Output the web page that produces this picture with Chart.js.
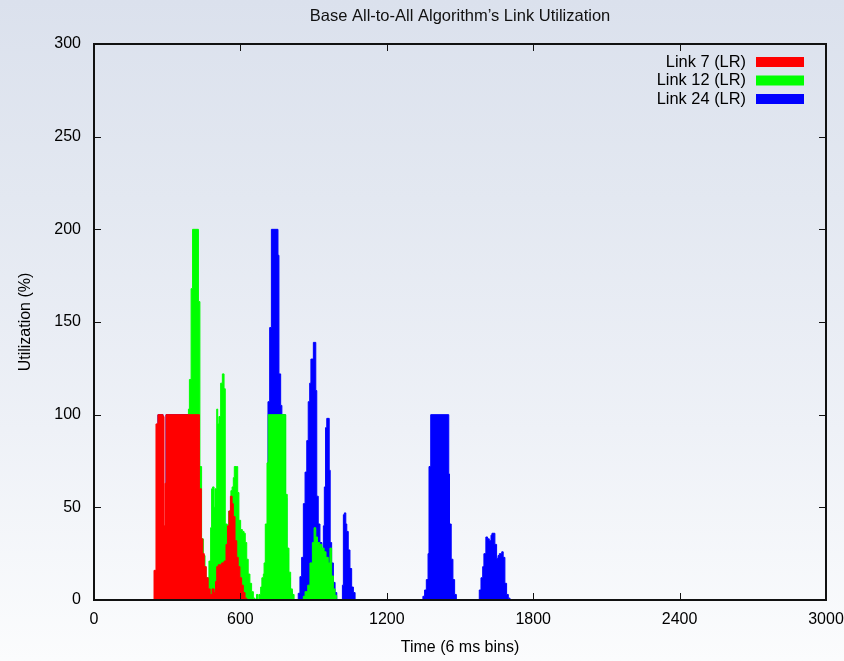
<!DOCTYPE html>
<html>
<head>
<meta charset="utf-8">
<script src="https://cdn.jsdelivr.net/npm/chart.js@4.4.1/dist/chart.umd.min.js"></script>
<style>
  html, body { margin: 0; padding: 0; }
  body {
    width: 844px; height: 661px; overflow: hidden;
    background: linear-gradient(to bottom, #dbe1ed 0%, #e3e8f1 30%, #eef1f7 65%, #fbfcfd 100%);
  }
  canvas { display: block; }
</style>
</head>
<body>
<canvas id="c" width="844" height="661"></canvas>
<script>
// ---- data (time in 6 ms bins, utilization in %) ----
const chartTitle = "Base All-to-All Algorithm\u2019s Link Utilization";
const xAxisTitle = "Time (6 ms bins)";
const yAxisTitle = "Utilization (%)";
const seriesLabels = ["Link 7 (LR)", "Link 12 (LR)", "Link 24 (LR)"];
const seriesColors = ["#ff0000", "#00ff00", "#0000ff"];
const xTickValues = [0, 600, 1200, 1800, 2400, 3000];
const yTickValues = [0, 50, 100, 150, 200, 250, 300];

const link7Time = [0, 246, 254, 262, 283, 287, 291, 295, 432, 440, 446, 452, 460, 468, 476, 484, 492, 498, 503, 509, 523, 533, 541, 547, 553, 559, 566, 571, 578, 585, 591, 598, 605, 612, 619, 626];
const link7Util = [0, 16, 95, 100, 99, 40, 63, 100, 60, 33, 25, 18, 12, 6, 3, 6, 4, 10, 18, 19, 20, 21, 30, 40, 48, 56, 52, 45, 32, 23, 18, 12, 8, 4, 1, 0];

const link12Time = [0, 383, 387, 391, 398, 404, 428, 434, 441, 448, 455, 459, 464, 471, 478, 482, 486, 492, 496, 503, 507, 512, 519, 526, 533, 538, 546, 552, 557, 561, 566, 571, 575, 585, 589, 594, 601, 608, 615, 620, 626, 632, 639, 646, 653, 660, 666, 672, 676, 683, 688, 694, 697, 702, 709, 714, 786, 792, 799, 806, 813, 820, 858, 865, 876, 885, 895, 902, 909, 916, 925, 934, 943, 951, 960, 967, 974, 981, 988, 995];
const link12Util = [0, 90, 103, 119, 168, 200, 161, 72, 33, 24, 18, 12, 12, 21, 39, 60, 61, 50, 60, 103, 95, 99, 117, 122, 114, 41, 40, 48, 48, 59, 61, 66, 72, 72, 58, 43, 38, 37, 36, 31, 22, 14, 9, 4.5, 1, 0, 3, 0, 3, 7, 12, 14, 20, 41, 74, 100, 57, 28, 15, 6, 3, 0, 2, 4.5, 8, 20, 31, 39, 34, 31, 30, 28, 26, 23, 20, 28, 13, 6, 2.5, 0];

const link24Time = [0, 262, 283, 295, 420, 700, 706, 713, 720, 727, 754, 758, 765, 770, 784, 790, 797, 804, 812, 837, 844, 851, 858, 865, 872, 878, 884, 889, 899, 909, 913, 919, 926, 934, 940, 944, 949, 954, 964, 968, 974, 981, 988, 995, 1018, 1022, 1026, 1032, 1036, 1042, 1049, 1056, 1063, 1070, 1348, 1355, 1362, 1369, 1373, 1380, 1454, 1457, 1464, 1471, 1478, 1485, 1579, 1586, 1593, 1598, 1606, 1613, 1620, 1627, 1631, 1643, 1650, 1656, 1661, 1671, 1677, 1684, 1691, 1698, 1705];
const link24Util = [0, 100, 0, 100, 0, 10, 40, 107, 147, 200, 186, 122, 105, 100, 55, 25, 12, 5, 0, 3.6, 12.6, 23, 52, 69, 86, 107, 117, 130, 139, 113, 56, 41, 31, 27, 40, 61, 93, 98, 70, 31, 20, 9.5, 4, 0, 8, 46, 47, 41, 37, 27, 17, 7, 4, 0, 2, 5.4, 11, 25, 72, 100, 68, 41, 22, 11, 3, 0, 5.4, 12, 18, 25, 34, 33, 32, 35, 36, 30, 22.5, 24, 25, 26, 23, 9, 3, 1, 0];

function pts(ts, vs) { return ts.map((t, i) => ({ x: t, y: vs[i] })); }

const FONT = "'Liberation Sans', Arial, Helvetica, sans-serif";
Chart.defaults.font.family = FONT;
Chart.defaults.font.size = 16;
Chart.defaults.color = "#000";

const decor = {
  id: 'decor',
  afterDatasetsDraw(chart) {
    const ctx = chart.ctx, a = chart.chartArea;
    const xs = chart.scales.x, ys = chart.scales.y;
    ctx.save();
    ctx.strokeStyle = "#111";
    ctx.lineWidth = 1;
    const TL = 7;
    ctx.beginPath();
    xTickValues.forEach(v => {
      const px = Math.round(xs.getPixelForValue(v)) + 0.5;
      ctx.moveTo(px, a.bottom); ctx.lineTo(px, a.bottom - TL);
      ctx.moveTo(px, a.top); ctx.lineTo(px, a.top + TL);
    });
    yTickValues.forEach(v => {
      const py = Math.round(ys.getPixelForValue(v)) + 0.5;
      ctx.moveTo(a.left, py); ctx.lineTo(a.left + TL, py);
      ctx.moveTo(a.right, py); ctx.lineTo(a.right - TL, py);
    });
    ctx.stroke();
    ctx.lineWidth = 2;
    ctx.strokeStyle = "#111";
    ctx.strokeRect(a.left, a.top, a.right - a.left, a.bottom - a.top);
    ctx.restore();
  },
  afterDraw(chart) {
    const ctx = chart.ctx, a = chart.chartArea;
    ctx.save();
    // title
    ctx.fillStyle = "#111";
    ctx.font = "16.5px " + FONT;
    ctx.textAlign = "center";
    ctx.textBaseline = "middle";
    ctx.fillText(chartTitle, (a.left + a.right) / 2, 16);
    // legend
    ctx.font = "16.4px " + FONT;
    ctx.textAlign = "right";
    chart.data.datasets.forEach((ds, i) => {
      const cy = 62 + i * 18.5;
      ctx.fillStyle = "#000";
      ctx.fillText(ds.label, 746, cy);
      ctx.fillStyle = ds.backgroundColor;
      ctx.fillRect(756, cy - 5, 48, 10);
    });
    ctx.restore();
  }
};

const mkDs = (i, ts, vs) => ({
  label: seriesLabels[i],
  data: pts(ts, vs),
  borderColor: seriesColors[i],
  backgroundColor: seriesColors[i],
  borderWidth: 1,
  pointRadius: 0,
  stepped: true,
  fill: 'origin',
  tension: 0
});

new Chart(document.getElementById('c'), {
  type: 'line',
  data: {
    datasets: [
      mkDs(0, link7Time, link7Util),
      mkDs(1, link12Time, link12Util),
      mkDs(2, link24Time, link24Util)
    ]
  },
  options: {
    responsive: false,
    animation: false,
    layout: { padding: { top: 44, right: 18, bottom: 0, left: 0 } },
    plugins: { legend: { display: false }, title: { display: false }, tooltip: { enabled: false } },
    scales: {
      x: {
        type: 'linear', min: 0, max: 3000,
        grid: { display: false },
        border: { display: false },
        ticks: { stepSize: 600, maxRotation: 0, autoSkip: false, padding: 2, color: "#000", font: { size: 16 },
                 callback: v => String(v) },
        afterBuildTicks(s) { s.ticks = xTickValues.map(v => ({ value: v })); },
        afterFit(s) { s.height = 61; s.paddingLeft = 0; s.paddingRight = 0; },
        title: { display: true, text: xAxisTitle, color: "#000", font: { size: 16 }, padding: { top: 0, bottom: 4 } }
      },
      y: {
        type: 'linear', min: 0, max: 300,
        grid: { display: false },
        border: { display: false },
        ticks: { stepSize: 50, padding: 5, color: "#000", font: { size: 16 }, callback: v => String(v) },
        afterBuildTicks(s) { s.ticks = yTickValues.map(v => ({ value: v })); },
        afterFit(s) { s.width = 94; s.paddingTop = 0; s.paddingBottom = 0; },
        title: { display: true, text: yAxisTitle, color: "#000", font: { size: 16 }, padding: { top: 16, bottom: 0 } }
      }
    }
  },
  plugins: [decor]
});
</script>
</body>
</html>
